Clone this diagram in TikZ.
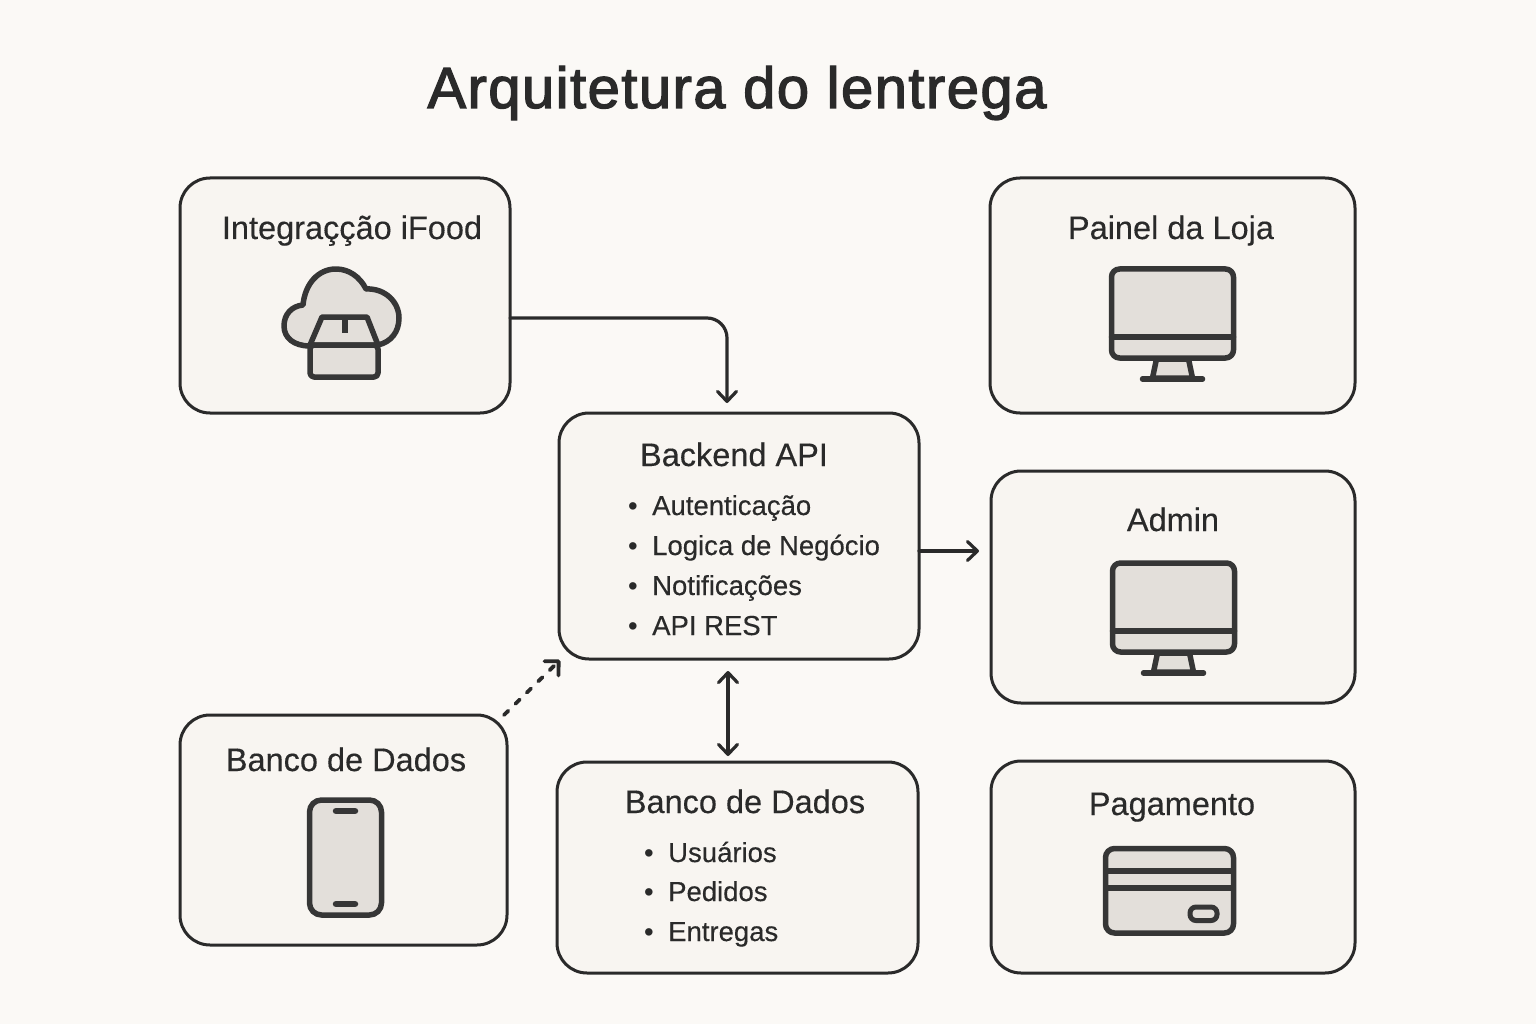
\documentclass[tikz,border=0pt]{standalone}
\usepackage{fontspec}
\setmainfont{Liberation Sans}
\newfontfamily\titlefont{Liberation Sans}[FakeBold=2.2,LetterSpace=2.5]
\newfontfamily\headfont{Liberation Sans}[FakeBold=0.3]
\usetikzlibrary{arrows.meta}
\definecolor{bgc}{HTML}{FBF9F6}
\definecolor{boxc}{HTML}{F8F5F1}
\definecolor{inkc}{HTML}{2A2A2A}
\definecolor{iconc}{HTML}{363636}
\definecolor{fillc}{HTML}{E3DFDA}
\tikzset{
  card/.style={draw=inkc,fill=boxc,line width=3pt,rounded corners=30pt,inner sep=0pt,outer sep=0pt},
  boxtitle/.style={anchor=base,text=inkc,font=\headfont\fontsize{32.5}{36}\selectfont,inner sep=0pt},
  itemtext/.style={anchor=base west,text=inkc,font=\headfont\fontsize{27.5}{32}\selectfont,inner sep=0pt},
  bulletmark/.style={anchor=base,text=inkc,font=\fontsize{27.5}{32}\selectfont,inner sep=0pt},
  barbtip/.tip={Straight Barb[length=10pt,width=19pt,line width=3.2pt,round]},
  dashtip/.tip={Straight Barb[length=10pt,width=20pt,line width=3.8pt,round]},
  conn/.style={draw=inkc,line width=3.2pt,line cap=round,line join=round,-barbtip},
  icon/.style={draw=iconc,fill=fillc,line width=5.5pt,line join=round,line cap=round},
  iconline/.style={draw=iconc,line width=5.5pt,line cap=round},
  monitorpic/.pic={
    \path[icon,rounded corners=8pt] (-61,0) rectangle (61,89);
    \path[icon] (-16,90) -- (-20,109) -- (20,109) -- (16,90) -- cycle;
    \draw[iconline] (-61,68) -- (61,68);
    \draw[iconline] (-30,110) -- (30,110);
  }
}
\begin{document}
\begin{tikzpicture}[x=1pt,y=-1pt]
\useasboundingbox (0,0) rectangle (1536,1024);
\fill[bgc] (0,0) rectangle (1536,1024);

\node[anchor=base,text=inkc,inner sep=0pt,font=\titlefont\fontsize{58}{64}\selectfont] (title) at (737,108) {Arquitetura do lentrega};

\node[card,minimum width=330pt,minimum height=235pt] (ifood) at (345,295.5) {};
\node[card,minimum width=365pt,minimum height=235pt] (painel) at (1172.5,295.5) {};
\node[card,minimum width=360pt,minimum height=246pt] (backend) at (739,536) {};
\node[card,minimum width=364pt,minimum height=232pt] (admin) at (1173,587) {};
\node[card,minimum width=327pt,minimum height=230pt] (mobile) at (343.5,830) {};
\node[card,minimum width=361pt,minimum height=211pt] (db) at (737.5,867.5) {};
\node[card,minimum width=364pt,minimum height=212pt] (pag) at (1173,867) {};

\node[boxtitle] (t1) at (352,239) {Integraçção iFood};
\node[boxtitle] (t2) at (1171,239) {Painel da Loja};
\node[boxtitle] (t3) at (734,466) {Backend API};
\node[boxtitle] (t4) at (1173,531) {Admin};
\node[boxtitle] (t5) at (346,771) {Banco de Dados};
\node[boxtitle] (t6) at (745,813) {Banco de Dados};
\node[boxtitle] (t7) at (1172,815) {Pagamento};

\foreach \n/\y/\s in {a/515/Autenticação,b/555/Logica de Negócio,c/595/Notificações,d/635/API REST}{
  \node[bulletmark] (bb\n) at (633,\y) {•};
  \node[itemtext] (it\n) at (652,\y) {\s};
}
\foreach \n/\y/\s in {e/862/Usuários,f/901/Pedidos,g/941/Entregas}{
  \node[bulletmark] (bb\n) at (649,\y) {•};
  \node[itemtext] (it\n) at (668,\y) {\s};
}

% cloud + box icon
\path[icon] (310,346) .. controls (294,346) and (284,338) .. (284,326)
  .. controls (284,314) and (292,306) .. (303,305)
  .. controls (305,284) and (318,269) .. (336,269)
  .. controls (349,269) and (360,277) .. (366,289)
  .. controls (385,288) and (399,302) .. (399,318)
  .. controls (399,332) and (391,342) .. (378,345) -- cycle;
\path[icon] (310,345) -- (322,317) -- (367,317) -- (378,345) -- cycle;
\path[icon,rounded corners=4pt] (310,345) rectangle (378,377);
\draw[iconline,line cap=butt] (345,317) -- (345,333);

% monitors
\pic at (1172.5,269) {monitorpic};
\pic at (1173.5,563) {monitorpic};

% phone
\path[icon,rounded corners=12pt] (309.5,800) rectangle (381.5,915);
\draw[iconline,line width=6.5pt] (336,811) -- (355,811);
\draw[iconline,line width=6.5pt] (336,904) -- (355,904);

% credit card
\path[icon,rounded corners=9pt] (1105.5,848.5) rectangle (1233.5,933);
\draw[iconline,line cap=butt] (1105.5,871) -- (1233.5,871);
\draw[iconline,line cap=butt] (1105.5,888) -- (1233.5,888);
\path[draw=iconc,line width=5pt,rounded corners=6pt] (1190,907) rectangle (1217,920.5);

% connectors
\draw[conn,rounded corners=20pt,shorten >=10pt] ([yshift=-22.5pt]ifood.east) -| ([xshift=-12pt]backend.north);
\draw[conn,shorten >=12pt] ([yshift=-15pt]backend.east) -- ([yshift=36pt]admin.west);
\draw[conn,barbtip-barbtip,shorten <=12pt,shorten >=6pt] ([xshift=-11pt]backend.south) -- ([xshift=-9.5pt]db.north);
\draw[conn,-dashtip,line width=3.8pt,dash pattern=on 6pt off 10pt] ([xshift=-3pt]mobile.north east) -- ([shift={(1pt,-1pt)}]backend.south west);
\end{tikzpicture}
\end{document}
